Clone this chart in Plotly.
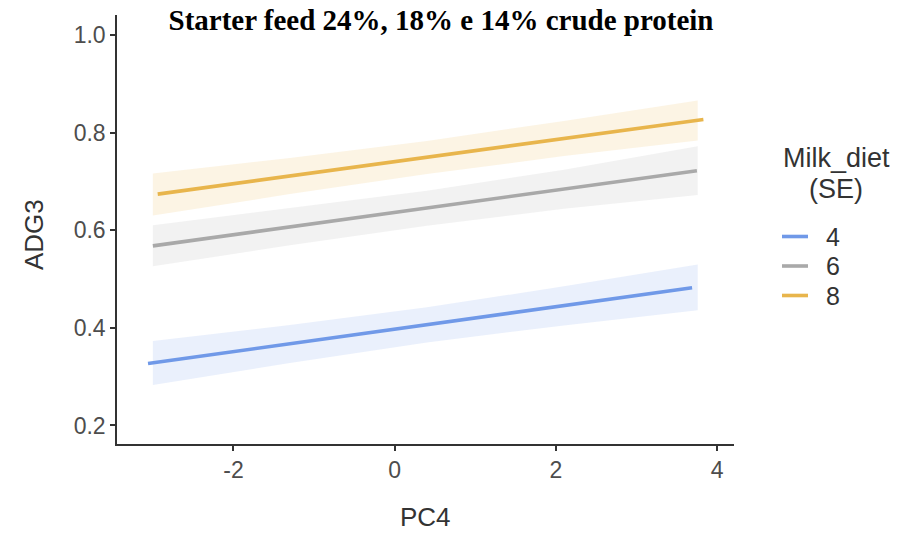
import plotly.graph_objects as go

# Fitted ADG3 vs PC4 by milk diet, with standard-error bands
milk_diet = ["4", "6", "8"]
line_colors = ["#7099e8", "#a9a9a9", "#e8b54c"]
band_colors = ["rgba(112,153,232,0.15)", "rgba(169,169,169,0.15)", "rgba(232,181,76,0.15)"]

fit_x_4 = [-3.06, 3.69]
fit_y_4 = [0.327, 0.482]
fit_x_6 = [-3.00, 3.75]
fit_y_6 = [0.568, 0.722]
fit_x_8 = [-2.94, 3.83]
fit_y_8 = [0.674, 0.827]

band_x = [-3.0, -1.3, 0.4, 2.1, 3.76]
upper_4 = [0.373, 0.406, 0.442, 0.485, 0.530]
lower_4 = [0.283, 0.328, 0.370, 0.405, 0.436]
upper_6 = [0.610, 0.645, 0.681, 0.724, 0.772]
lower_6 = [0.526, 0.569, 0.609, 0.644, 0.672]
upper_8 = [0.716, 0.748, 0.783, 0.824, 0.866]
lower_8 = [0.630, 0.674, 0.715, 0.752, 0.784]

x_ticks = [-2, 0, 2, 4]
y_ticks = [0.2, 0.4, 0.6, 0.8, 1.0]

fits = [(fit_x_4, fit_y_4), (fit_x_6, fit_y_6), (fit_x_8, fit_y_8)]
bands = [(upper_4, lower_4), (upper_6, lower_6), (upper_8, lower_8)]

SANS = "Liberation Sans, Arial, sans-serif"
TEXT = "#333333"

# plot panel in pixels (left, right, top, bottom)
PL, PR, PT, PB = 117, 734, 15, 444
PW, PH = PR - PL, PB - PT


def px_x(px):
    return (px - PL) / PW


def px_y(py):
    return (PB - py) / PH


fig = go.Figure()

for (up, lo), fc in zip(bands, band_colors):
    fig.add_trace(go.Scatter(
        x=band_x + band_x[::-1], y=up + lo[::-1],
        fill="toself", fillcolor=fc, line=dict(width=0),
        mode="lines", hoverinfo="skip", showlegend=False,
    ))

for name, (fx, fy), lc in zip(milk_diet, fits, line_colors):
    fig.add_trace(go.Scatter(
        x=fx, y=fy, mode="lines", name=name,
        line=dict(color=lc, width=3.6), showlegend=False,
    ))

axis_font = dict(family=SANS, size=23, color="#4d4d4d")

fig.update_layout(
    width=919, height=534,
    margin=dict(l=PL, r=919 - PR, t=PT, b=534 - PB),
    plot_bgcolor="white", paper_bgcolor="white",
    title=dict(
        text="<b>Starter feed 24%, 18% e 14% crude protein</b>",
        font=dict(family="Liberation Serif, Times New Roman, serif", size=29, color="black"),
        x=441 / 919, xanchor="center", xref="container",
        y=1 - 20 / 534, yanchor="middle", yref="container",
    ),
    xaxis=dict(
        range=[-3.445, 4.21], tickvals=x_ticks, ticktext=[str(v) for v in x_ticks],
        showgrid=False, zeroline=False, showline=True, linecolor=TEXT, linewidth=1.5,
        ticks="outside", ticklen=5, tickcolor=TEXT, tickwidth=1.5,
        tickfont=axis_font,
    ),
    yaxis=dict(
        range=[0.162, 1.041], tickvals=y_ticks, ticktext=[f"{v:.1f}" for v in y_ticks],
        showgrid=False, zeroline=False, showline=True, linecolor=TEXT, linewidth=1.5,
        ticks="outside", ticklen=5, tickcolor=TEXT, tickwidth=1.5,
        tickfont=axis_font,
    ),
    showlegend=False,
)

# axis titles
fig.add_annotation(text="PC4", x=px_x(425), y=px_y(517), xref="paper", yref="paper",
                   xanchor="center", yanchor="middle", showarrow=False,
                   font=dict(family=SANS, size=26, color=TEXT))
fig.add_annotation(text="ADG3", x=px_x(34), y=px_y(235), xref="paper", yref="paper",
                   xanchor="center", yanchor="middle", showarrow=False, textangle=-90,
                   font=dict(family=SANS, size=26, color=TEXT))

# legend: title, key lines and labels
for txt, yc in [("Milk_diet", 158), ("(SE)", 189)]:
    fig.add_annotation(
        text=txt, x=px_x(836), y=px_y(yc), xref="paper", yref="paper",
        xanchor="center", yanchor="middle", showarrow=False,
        font=dict(family=SANS, size=27, color=TEXT),
    )

for i, (name, lc) in enumerate(zip(milk_diet, line_colors)):
    yc = 236.5 + i * 29.5
    fig.add_shape(type="line", xref="paper", yref="paper",
                  x0=px_x(782), x1=px_x(808), y0=px_y(yc), y1=px_y(yc),
                  line=dict(color=lc, width=3.6))
    fig.add_annotation(
        text=name, x=px_x(824), y=px_y(yc), xref="paper", yref="paper",
        xanchor="left", yanchor="middle", showarrow=False,
        font=dict(family=SANS, size=25, color=TEXT),
    )

fig.write_html("out.html")
